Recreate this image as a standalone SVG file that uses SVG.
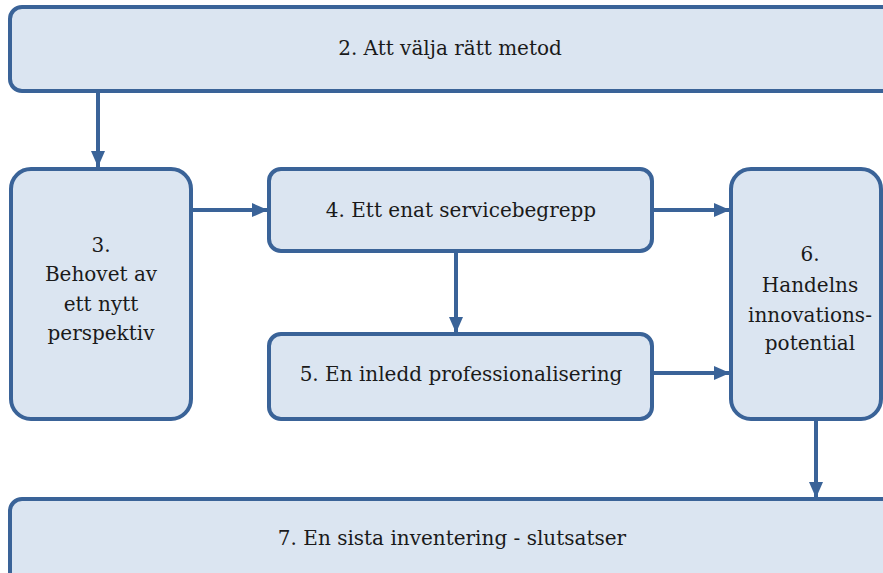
<svg xmlns="http://www.w3.org/2000/svg" width="883" height="573" viewBox="0 0 883 573">
<defs>
<style>
.box{fill:#DBE5F1;stroke:#3A6398;stroke-width:4}
.t{font-family:'DejaVu Serif','Liberation Serif',serif;font-size:20px;fill:#1a1a1a;text-anchor:middle}
.c{stroke:#3A6398;stroke-width:4;fill:none}
</style>
<marker id="ah" markerWidth="16" markerHeight="14" refX="16" refY="7" orient="auto" markerUnits="userSpaceOnUse">
<path d="M0,0 L16,7 L0,14 Z" fill="#3A6398"/>
</marker>
</defs>
<g id="connectors">
<line class="c" x1="98" y1="93" x2="98" y2="167" marker-end="url(#ah)"/>
<line class="c" x1="193" y1="210" x2="268" y2="210" marker-end="url(#ah)"/>
<line class="c" x1="654" y1="210" x2="730" y2="210" marker-end="url(#ah)"/>
<line class="c" x1="456" y1="253" x2="456" y2="333" marker-end="url(#ah)"/>
<line class="c" x1="654" y1="373" x2="730" y2="373" marker-end="url(#ah)"/>
<line class="c" x1="816" y1="421" x2="816" y2="498" marker-end="url(#ah)"/>
</g>
<g id="n2">
<rect class="box" x="10" y="7" width="900" height="84" rx="12"/>
<text class="t" x="450" y="55">2. Att välja rätt metod</text>
</g>
<g id="n3">
<rect class="box" x="11" y="169" width="180" height="250" rx="20"/>
<text class="t" x="101" y="252">3.</text>
<text class="t" x="101" y="281">Behovet av</text>
<text class="t" x="101" y="311">ett nytt</text>
<text class="t" x="101" y="340">perspektiv</text>
</g>
<g id="n4">
<rect class="box" x="269" y="169" width="383" height="82" rx="12"/>
<text class="t" x="461" y="217">4. Ett enat servicebegrepp</text>
</g>
<g id="n5">
<rect class="box" x="269" y="334" width="383" height="85" rx="12"/>
<text class="t" x="461" y="381">5. En inledd professionalisering</text>
</g>
<g id="n6">
<rect class="box" x="731" y="169" width="150" height="250" rx="20"/>
<text class="t" x="810" y="261">6.</text>
<text class="t" x="810" y="292">Handelns</text>
<text class="t" x="810" y="322">innovations-</text>
<text class="t" x="810" y="350">potential</text>
</g>
<g id="n7">
<rect class="box" x="10" y="499" width="900" height="120" rx="12"/>
<text class="t" x="452" y="545">7. En sista inventering - slutsatser</text>
</g>
</svg>
